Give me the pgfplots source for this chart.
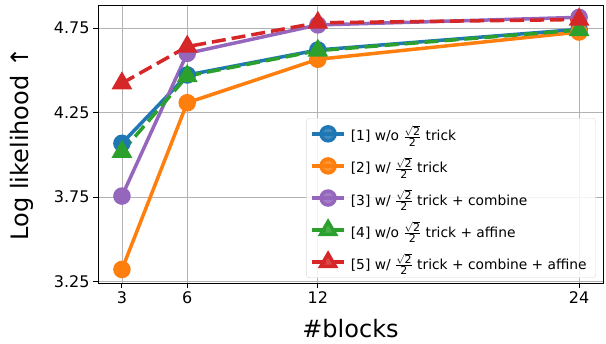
\documentclass[border=0pt]{standalone}
\usepackage{fontspec}
\setmainfont{DejaVu Sans}
\usepackage{pgfplots}
\pgfplotsset{compat=1.18}
\definecolor{c1}{HTML}{1F77B4}
\definecolor{c2}{HTML}{FF7F0E}
\definecolor{c3}{HTML}{9467BD}
\definecolor{c4}{HTML}{2CA02C}
\definecolor{c5}{HTML}{D62728}
\newcommand{\fr}{$\frac{\sqrt{\mbox{\fontsize{11}{11}\selectfont 2}}}{\mbox{\fontsize{11}{11}\selectfont 2}}$}
\begin{document}
\begin{tikzpicture}
\begin{axis}[
  width=505pt, height=278pt, scale only axis,
  xmin=1.9, xmax=25.1, ymin=3.242, ymax=4.886,
  xtick={3,6,12,24},
  ytick={3.25,3.75,4.25,4.75},
  yticklabel style={/pgf/number format/.cd, fixed, fixed zerofill, precision=2},
  /pgf/number format/assume math mode=true,
  ticklabel style={font=\fontsize{16}{18}\selectfont},
  grid=major,
  major grid style={draw=black!30, line width=0.8pt},
  axis line style={line width=0.9pt},
  tick style={black, line width=0.9pt},
  tick align=outside, major tick length=5pt,
  xtick pos=bottom, ytick pos=left,
  xlabel={\#blocks},
  ylabel={Log likelihood ↑},
  label style={font=\fontsize{24}{28}\selectfont},
  xlabel style={at={(axis description cs:0.5,-0.165)}, anchor=center},
  ylabel style={at={(axis description cs:-0.150,0.5)}, anchor=center},
  legend style={at={(0.986,0.018)}, anchor=south east, draw=black!15, fill=white, fill opacity=0.85, text opacity=1, rounded corners=3pt, font=\fontsize{13.8}{15}\selectfont, row sep=11pt, inner xsep=4pt, inner ysep=5pt, nodes={inner xsep=5pt}},
  legend cell align=left,
  legend image code/.code={\draw[mark repeat=2,mark phase=2] plot coordinates {(0pt,0pt) (16pt,0pt) (32pt,0pt)};},
  clip=false,
]
\coordinate (bl) at (rel axis cs:0,0);
\addplot[c1, line width=3.5pt, mark=*, mark size=7pt, mark options={solid}] coordinates {(3,4.068) (6,4.472) (12,4.620) (24,4.742)};
\addlegendentry{[1] w/o \fr{} trick}
\addplot[c2, line width=3.5pt, mark=*, mark size=7pt, mark options={solid}] coordinates {(3,3.322) (6,4.308) (12,4.565) (24,4.726)};
\addlegendentry{[2] w/ \fr{} trick}
\addplot[c3, line width=3.5pt, mark=*, mark size=7pt, mark options={solid}] coordinates {(3,3.756) (6,4.600) (12,4.768) (24,4.813)};
\addlegendentry{[3] w/ \fr{} trick + combine}
\addplot[c4, line width=3.5pt, dash pattern=on 14pt off 6pt, mark=triangle*, mark size=8.5pt, mark options={solid}] coordinates {(3,4.018) (6,4.466) (12,4.616) (24,4.738)};
\addlegendentry{[4] w/o \fr{} trick + affine}
\addplot[c5, line width=3.5pt, dash pattern=on 14pt off 6pt, mark=triangle*, mark size=8.5pt, mark options={solid}] coordinates {(3,4.423) (6,4.640) (12,4.781) (24,4.800)};
\addlegendentry{[5] w/ \fr{} trick + combine + affine}
\end{axis}
\pgfresetboundingbox
\path (bl) ++(-98pt,-61pt) rectangle ++(606pt,344pt);
\end{tikzpicture}
\end{document}
